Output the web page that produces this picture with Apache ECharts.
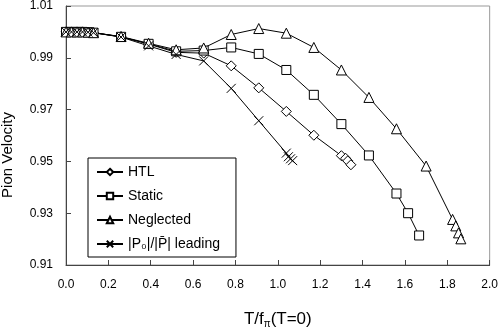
<!DOCTYPE html>
<html>
<head>
<meta charset="utf-8">
<script src="https://cdn.jsdelivr.net/npm/echarts@6/dist/echarts.min.js"></script>
<style>
html, body { margin: 0; padding: 0; background: #fff; }
#main { width: 501px; height: 334px; }
</style>
</head>
<body>
<div id="main"></div>
<script>
// T/f_pi(T=0) 与 pion velocity 数据
var tHTL = [0, 0.026, 0.052, 0.078, 0.104, 0.13, 0.26, 0.39, 0.52, 0.65, 0.78, 0.91, 1.04, 1.17, 1.30, 1.32, 1.33, 1.345];
var vHTL = [1.0, 1.0, 1.0, 1.0, 0.9999, 0.9997, 0.9981, 0.9953, 0.9921, 0.9918, 0.9869, 0.9784, 0.9693, 0.9601, 0.9522, 0.9512, 0.9502, 0.9487];

var tStatic = [0, 0.026, 0.052, 0.078, 0.104, 0.13, 0.26, 0.39, 0.52, 0.65, 0.78, 0.91, 1.04, 1.17, 1.30, 1.43, 1.56, 1.615, 1.667];
var vStatic = [1.0, 1.0, 1.0, 1.0, 0.9999, 0.9997, 0.9981, 0.9954, 0.9925, 0.9928, 0.9940, 0.9915, 0.9853, 0.9757, 0.9644, 0.9523, 0.9376, 0.9300, 0.9214];

var tNeglected = [0, 0.026, 0.052, 0.078, 0.104, 0.13, 0.26, 0.39, 0.52, 0.65, 0.78, 0.91, 1.04, 1.17, 1.30, 1.43, 1.56, 1.70, 1.825, 1.84, 1.853, 1.864];
var vNeglected = [1.0, 1.0, 1.0, 1.0, 0.9999, 0.9997, 0.9982, 0.9956, 0.9931, 0.9938, 0.9990, 1.0013, 0.9995, 0.9940, 0.9853, 0.9747, 0.9626, 0.9482, 0.9276, 0.9251, 0.9224, 0.9201];

var tLeading = [0, 0.026, 0.052, 0.078, 0.104, 0.13, 0.26, 0.39, 0.52, 0.65, 0.78, 0.91, 1.04, 1.05, 1.06, 1.07];
var vLeading = [1.0, 1.0, 1.0, 1.0, 0.9999, 0.9997, 0.9980, 0.9946, 0.9913, 0.9888, 0.9782, 0.9657, 0.9532, 0.9518, 0.9510, 0.9503];

var xTicks = [0, 0.2, 0.4, 0.6, 0.8, 1.0, 1.2, 1.4, 1.6, 1.8, 2.0];
var yTicks = [0.91, 0.93, 0.95, 0.97, 0.99, 1.01];

function pairs(xs, ys) {
    return xs.map(function (x, i) { return [x, ys[i]]; });
}

var font = 'Liberation Sans, Arial, sans-serif';

function makeSeries(name, xs, ys, symbol, size) {
    return {
        name: name,
        type: 'line',
        data: pairs(xs, ys),
        symbol: symbol,
        symbolSize: size,
        showAllSymbol: true,
        lineStyle: { color: '#000', width: 1 },
        itemStyle: { color: '#fff', borderColor: '#000', borderWidth: 1 },
        emphasis: { disabled: true },
        z: 3
    };
}

var myChart = echarts.init(document.getElementById('main'));

var option = {
    backgroundColor: '#fff',
    animation: false,
    textStyle: { fontFamily: font },
    grid: {
        left: 66, right: 8, top: 5, bottom: 62,
        show: true, borderColor: '#999', borderWidth: 1
    },
    legend: {
        orient: 'vertical',
        left: 88, top: 158,
        padding: [7, 16, 6, 8],
        itemGap: 10,
        itemWidth: 26,
        itemHeight: 8,
        borderColor: '#000',
        borderWidth: 1,
        backgroundColor: '#fff',
        textStyle: { fontSize: 14, color: '#000', fontFamily: font },
        data: ['HTL', 'Static', 'Neglected', '|P\u2080|/|P\u0304| leading']
    },
    xAxis: {
        type: 'value',
        min: xTicks[0], max: xTicks[xTicks.length - 1], interval: 0.2,
        name: 'T/f{s|\u03c0}(T=0)',
        nameLocation: 'middle',
        nameGap: 45,
        nameTextStyle: {
            fontSize: 17, color: '#000', fontFamily: font,
            rich: { s: { fontSize: 10, verticalAlign: 'bottom', padding: [9, 0, 0, 0], color: '#000' } }
        },
        axisLine: { lineStyle: { color: '#444', width: 1 } },
        axisTick: { inside: true, length: 5, lineStyle: { color: '#444' } },
        axisLabel: {
            margin: 14, fontSize: 12, color: '#000',
            formatter: function (v) { return v.toFixed(1); }
        },
        splitLine: { show: false }
    },
    yAxis: {
        type: 'value',
        min: yTicks[0], max: yTicks[yTicks.length - 1], interval: 0.02,
        axisLine: { show: true, lineStyle: { color: '#444', width: 1 } },
        axisTick: { show: true, inside: true, length: 5, lineStyle: { color: '#444' } },
        axisLabel: {
            margin: 13, fontSize: 12, color: '#000',
            formatter: function (v) { return v.toFixed(2); }
        },
        splitLine: { show: false }
    },
    graphic: [{
        type: 'text',
        left: 0, top: 112,
        rotation: Math.PI / 2,
        style: { text: 'Pion Velocity', fontSize: 15, fill: '#000', fontFamily: font }
    }],
    series: [
        makeSeries('HTL', tHTL, vHTL, 'diamond', 10),
        makeSeries('Static', tStatic, vStatic, 'rect', 9),
        makeSeries('Neglected', tNeglected, vNeglected, 'triangle', 10),
        makeSeries('|P\u2080|/|P\u0304| leading', tLeading, vLeading, 'path://M0,0L10,10M0,10L10,0', 9)
    ]
};

myChart.setOption(option);
</script>
</body>
</html>
